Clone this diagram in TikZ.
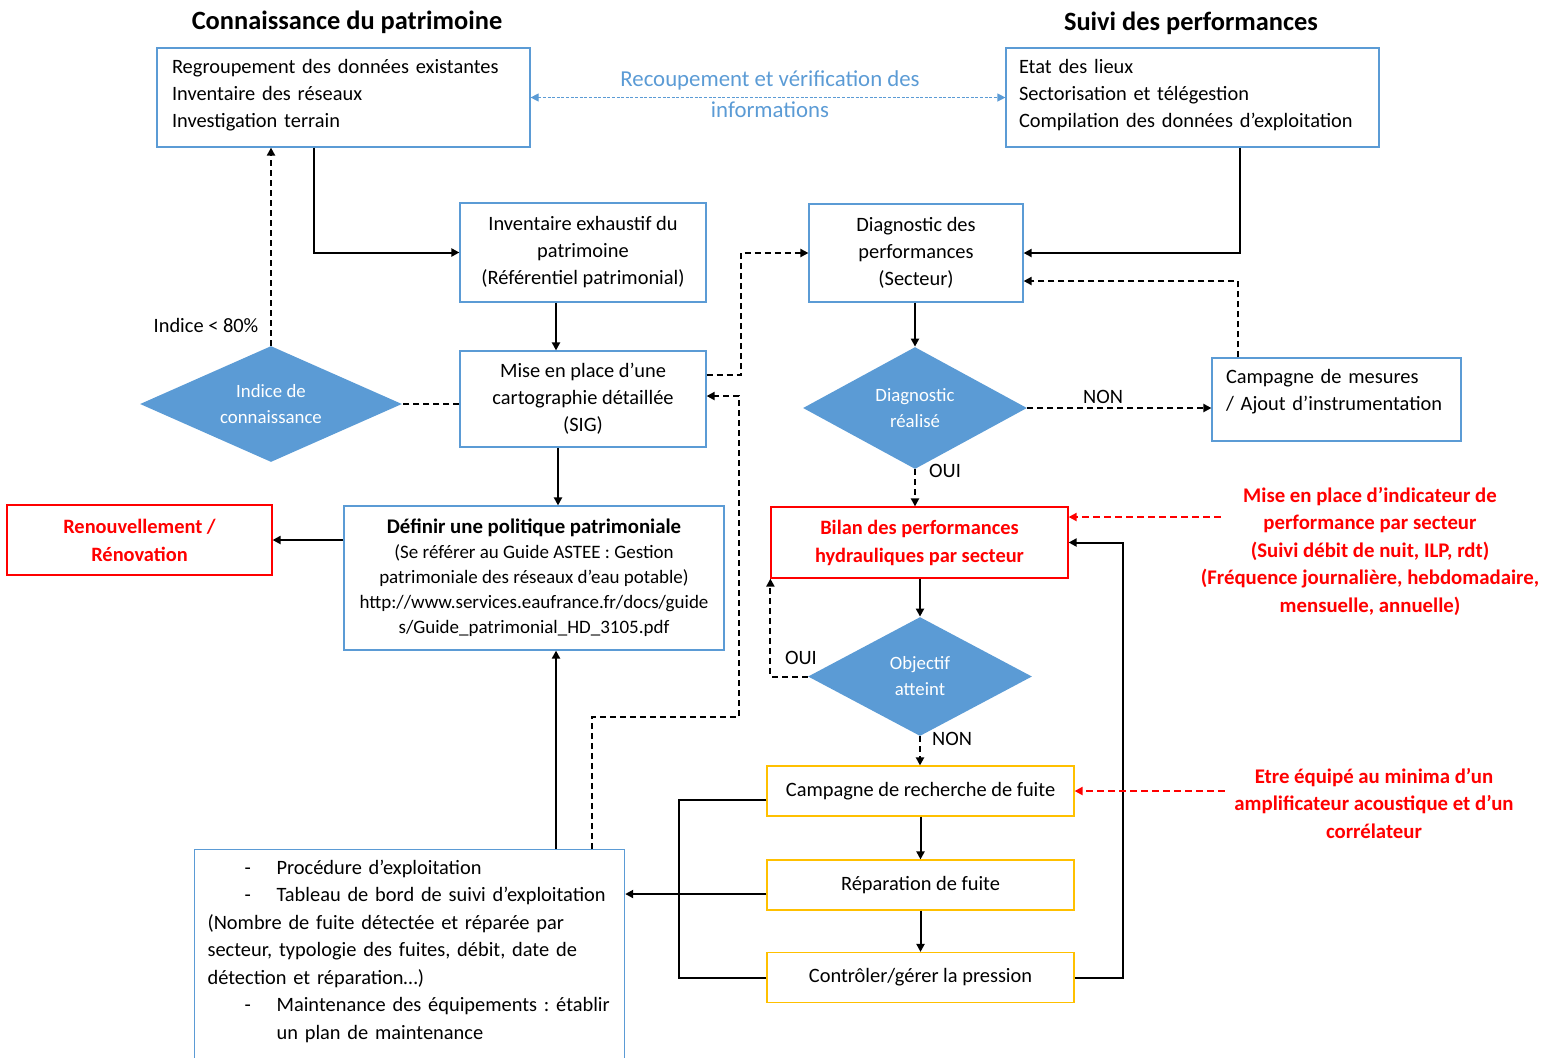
\documentclass[tikz,border=0pt]{standalone}
\usepackage{fontspec}
\setmainfont{Carlito}
\usetikzlibrary{arrows.meta,positioning,shapes.geometric}
\definecolor{bleu}{HTML}{5B9BD5}
\definecolor{jaune}{HTML}{FFC000}
\definecolor{rouge}{HTML}{FF0000}
\frenchspacing

\begin{document}
\begin{tikzpicture}[x=0.5pt,y=-0.5pt]
  \tikzset{bloc/.style = {shape=rectangle,draw=bleu,line width=0.6pt,align=center,inner sep=0pt,font=\fontsize{10.2}{13.5}\selectfont}}
  \tikzset{blocrouge/.style = {bloc,draw=rouge,text=rouge,font=\fontsize{10.2}{14}\selectfont\bfseries}}
  \tikzset{blocjaune/.style = {bloc,draw=jaune,minimum width=153.5pt,minimum height=25pt}}
  \tikzset{losange/.style = {shape=diamond,fill=bleu,text=white,align=center,inner sep=0pt,font=\fontsize{9.4}{13}\selectfont}}
  \tikzset{titre/.style = {inner sep=0pt,font=\fontsize{13.2}{16}\selectfont\bfseries}}
  \tikzset{note/.style = {inner sep=0pt,text=rouge,align=center,font=\fontsize{10.4}{13.75}\selectfont\bfseries}}
  \tikzset{etiq/.style = {inner sep=0pt,font=\fontsize{10.2}{12}\selectfont}}
  \tikzset{fleche/.style = {-{Triangle[length=4pt,width=4pt]},line width=1pt}}
  \tikzset{tfleche/.style = {fleche,dash pattern=on 3pt off 2pt}}
  \tikzset{tligne/.style = {line width=1pt,dash pattern=on 3pt off 2pt}}
  \tikzset{ligne/.style = {line width=1pt}}
  \tikzset{rfleche/.style = {tfleche,draw=rouge,dash pattern=on 3.5pt off 2pt}}
  \tikzset{bfleche/.style = {{Triangle[length=4pt,width=4pt]}-{Triangle[length=4pt,width=4pt]},draw=bleu,line width=0.6pt,dash pattern=on 1.5pt off 0.8pt}}
  \newcommand{\puce}[1]{\hspace*{18.5pt}\makebox[16pt][l]{-}#1}

  \clip (0,0) rectangle (1550,1057);

  % titres
  \node[titre] (T1) at (347,22) {Connaissance du patrimoine};
  \node[titre] (T2) at (1191,23) {Suivi des performances};

  % blocs du haut
  \node[bloc,align=left,minimum width=186.5pt,minimum height=49.5pt,text width=171.5pt] (TL) at (343.5,97.5)
    {Regroupement des données existantes\\Inventaire des réseaux\\Investigation terrain\\[-9pt]\mbox{}};
  \node[bloc,align=left,minimum width=186.5pt,minimum height=49.5pt,text width=173.5pt] (TR) at (1192.5,97.5)
    {Etat des lieux\\Sectorisation et télégestion\\Compilation des données d’exploitation\\[-9pt]\mbox{}};
  \node[inner sep=0pt,text=bleu,align=center,font=\fontsize{11.4}{15.5}\selectfont] (REC) at (770,94.5)
    {Recoupement et vérification des\\informations};

  % connaissance du patrimoine
  \node[bloc,minimum width=123pt,minimum height=49.5pt] (INV) at (583,252.5)
    {Inventaire exhaustif du\\patrimoine\\(Référentiel patrimonial)};
  \node[bloc,minimum width=123pt,minimum height=48pt] (CAR) at (583,399)
    {Mise en place d’une\\cartographie détaillée\\(SIG)};
  \node[losange,aspect=2.26,minimum width=131pt,minimum height=58pt] (IND) at (271,404) {Indice de\\connaissance};
  \node[etiq] (L80) at (206,325) {Indice < 80\%};
  \node[bloc,minimum width=190pt,minimum height=72pt,font=\fontsize{9.5}{12.5}\selectfont] (POL) at (534,578)
    {{\fontsize{10.4}{13}\selectfont\bfseries Définir une politique patrimoniale}\\(Se référer au Guide ASTEE : Gestion\\patrimoniale des réseaux d’eau potable)\\http://www.services.eaufrance.fr/docs/guide\\s/Guide\_patrimonial\_HD\_3105.pdf};
  \node[blocrouge,minimum width=132.5pt,minimum height=35pt] (REN) at (139.5,540) {Renouvellement /\\Rénovation};
  \node[bloc,anchor=north west,align=left,minimum width=215pt,text width=202pt,inner ysep=5pt,font=\fontsize{10.2}{13.75}\selectfont] (EXP) at (194,849)
    {\puce{Procédure d’exploitation}\\
     \puce{Tableau de bord de suivi d’exploitation}\\
     (Nombre de fuite détectée et réparée par\\
     secteur, typologie des fuites, débit, date de\\
     détection et réparation…)\\
     \puce{Maintenance des équipements : établir}\\
     \hspace*{34.5pt}un plan de maintenance\\[2pt]\mbox{}};

  % suivi des performances
  \node[bloc,minimum width=107pt,minimum height=49pt] (DIA) at (916,253)
    {Diagnostic des\\performances\\(Secteur)};
  \node[losange,aspect=1.84,minimum width=112pt,minimum height=61pt] (DR) at (915,408) {Diagnostic\\réalisé};
  \node[bloc,align=left,minimum width=124.5pt,minimum height=41.5pt,text width=110.5pt] (CM) at (1336.5,399.5)
    {Campagne de mesures\\/ Ajout d’instrumentation\\[-4pt]\mbox{}};
  \node[blocrouge,minimum width=148.5pt,minimum height=35.5pt] (BIL) at (919.5,542.5)
    {Bilan des performances\\hydrauliques par secteur};
  \node[losange,aspect=1.88,minimum width=112pt,minimum height=59.5pt] (OBJ) at (920,676.5) {Objectif\\atteint};
  \node[blocjaune] (CRF) at (920.5,791) {Campagne de recherche de fuite};
  \node[blocjaune] (REP) at (920.5,885) {Réparation de fuite};
  \node[blocjaune] (CTL) at (920.5,977.5) {Contrôler/gérer la pression};

  \node[etiq] (NON1) at (1103,397) {NON};
  \node[etiq] (OUI1) at (945,471) {OUI};
  \node[etiq] (OUI2) at (801,658) {OUI};
  \node[etiq] (NON2) at (952,739) {NON};

  % notes en rouge
  \node[note] (N1) at (1370,551)
    {Mise en place d’indicateur de\\performance par secteur\\(Suivi débit de nuit, ILP, rdt)\\(Fréquence journalière, hebdomadaire,\\mensuelle, annuelle)};
  \node[note] (N2) at (1374,803)
    {Etre équipé au minima d’un\\amplificateur acoustique et d’un\\corrélateur};

  % liaisons
  \draw[bfleche] (TL.east) -- (TR.west);
  \draw[fleche] ([xshift=-14.75pt]TL.south) |- (INV.west);
  \draw[tfleche] (IND.north) -- (IND.north |- TL.south);
  \draw[tligne] (CAR.west |- IND.east) -- (IND.east);
  \draw[fleche] ([xshift=-13.5pt]INV.south) -- ([xshift=-13.5pt]CAR.north);
  \draw[fleche] ([xshift=-12.5pt]CAR.south) -- ([xshift=-12.5pt]CAR.south |- POL.north);
  \draw[fleche] (POL.west |- REN.east) -- (REN.east);
  \draw[tfleche] ([yshift=12pt]CAR.east) -- ++(34,0) |- (DIA.west);
  \draw[tfleche] ([xshift=-16.5pt]EXP.north east) -- ++(0,-132) -- ++(147,0) |- ([yshift=1.5pt]CAR.east);
  \draw[fleche] ([xshift=11pt]POL.south |- EXP.north) -- ([xshift=11pt]POL.south);

  \draw[fleche] ([xshift=23.75pt]TR.south) |- (DIA.east);
  \draw[tfleche] ([xshift=-49.25pt]CM.north) |- ([yshift=-14pt]DIA.east);
  \draw[fleche] (DR.north |- DIA.south) -- (DR.north);
  \draw[tfleche] (DR.east) -- (DR.east -| CM.west);
  \draw[tfleche] (DR.south) -- (DR.south |- BIL.north);
  \draw[fleche] (OBJ.north |- BIL.south) -- (OBJ.north);
  \draw[tfleche] (OBJ.west) -| (BIL.south west);
  \draw[tfleche] (OBJ.south) -- (OBJ.south |- CRF.north);
  \draw[fleche] (CRF.south) -- (REP.north);
  \draw[fleche] (REP.south) -- (CTL.north);
  \draw[fleche] (CTL.east) -- ++(48,0) |- (BIL.east);
  \draw[ligne] ([yshift=-4.5pt]CRF.west) -- ++(-87,0) |- (CTL.west);
  \draw[fleche] ([yshift=-4.5pt]REP.west) -- ([yshift=-4.5pt]REP.west -| EXP.east);

  \draw[rfleche] ([xshift=76pt,yshift=12.75pt]BIL.east) -- ([yshift=12.75pt]BIL.east);
  \draw[rfleche] ([xshift=75pt]CRF.east) -- (CRF.east);
\end{tikzpicture}
\end{document}
